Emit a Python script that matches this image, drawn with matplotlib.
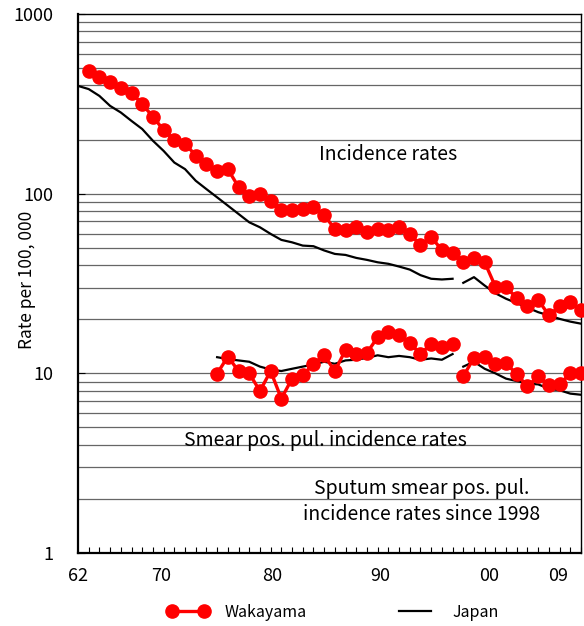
import numpy as np
import matplotlib
matplotlib.use("Agg")
import matplotlib.pyplot as plt
from matplotlib.ticker import FixedLocator, NullFormatter, MultipleLocator

plt.rcParams["font.family"] = ["Noto Sans CJK JP", "DejaVu Sans"]

# Incidence rates (all forms)
wak_inc_years = list(range(1963, 2010))
wak_inc = [482, 447, 421, 385, 365, 315, 268, 226, 199, 190, 163, 147, 133, 137,
           109, 97, 99.6, 90.6, 81, 81, 82, 84, 76, 63.6, 62.9, 65.6, 61, 63.6,
           62.9, 65.6, 59.5, 52, 57.2, 48.7, 46.9,
           41.5, 43.9, 41.5, 30.4, 30.1, 26.3, 23.6, 25.7, 21, 23.6, 24.9, 22.4]

jpn_inc_years = list(range(1962, 2010))
jpn_inc = [398, 382, 350, 308, 283, 254, 229, 197, 173, 149, 137, 118, 106, 95.4,
           85.8, 77.1, 69.3, 65, 59.7, 55.3, 53.6, 51.4, 51, 48.3, 46.2, 45.6,
           43.9, 42.8, 41.5, 40.7, 39.3, 37.8, 35.2, 33.6, 33.3, 33.6,
           31.9, 34.3, 30.8, 27.9, 26, 24.6, 23.2, 21.9, 21, 20.1, 19.4, 18.9]

# Smear positive pulmonary incidence rates (sputum smear pos. since 1998)
wak_sm_years = list(range(1975, 2010))
wak_sm = [9.96, 12.4, 10.3, 10.0, 7.97, 10.3, 7.23, 9.34, 9.75, 11.3, 12.6, 10.3,
          13.5, 12.8, 13.0, 15.9, 17.0, 16.3, 14.8, 12.8, 14.6, 14.1, 14.6,
          9.62, 12.2, 12.4, 11.3, 11.4, 9.87, 8.47, 9.62, 8.58, 8.68, 10.0, 10.1]

jpn_sm_years = list(range(1975, 2010))
jpn_sm = [12.3, 12.0, 11.8, 11.6, 10.9, 10.5, 10.3, 10.6, 10.9, 11.2, 11.6, 11.3,
          11.8, 11.9, 12.2, 12.6, 12.3, 12.5, 12.3, 11.9, 12.1, 11.9, 12.8,
          10.9, 11.6, 10.6, 10.0, 9.34, 9.06, 8.76, 8.68, 8.22, 8.05, 7.71, 7.6]

break_year = 1998  # series are split here

tick_pos = [1962, 1969.8, 1980.1, 1990.2, 2000.4, 2006.9]
tick_lab = ["62", "70", "80", "90", "00", "09"]

fig = plt.figure(figsize=(5.84, 6.26), dpi=100)
ax = fig.add_axes([78 / 584, 73 / 626, 503 / 584, 539 / 626])

red = "#ff0000"


def split(years, vals):
    y = np.array(years)
    v = np.array(vals, dtype=float)
    m = y < break_year
    return (y[m], v[m]), (y[~m], v[~m])


first = True
for yrs, vals in [(wak_inc_years, wak_inc), (wak_sm_years, wak_sm)]:
    for yy, vv in split(yrs, vals):
        ax.plot(yy, vv, "-o", color=red, lw=2.4, ms=9.5, mec=red,
                label="Wakayama" if first else None, zorder=4, clip_on=False)
        first = False

first = True
for yrs, vals in [(jpn_inc_years, jpn_inc), (jpn_sm_years, jpn_sm)]:
    for yy, vv in split(yrs, vals):
        ax.plot(yy, vv, "-", color="black", lw=1.6,
                label="Japan" if first else None, zorder=3)
        first = False

ax.set_yscale("log")
ax.set_ylim(1, 1000)
ax.set_xlim(1962, 2009)

# horizontal gridlines at every log step
grid_vals = [m * 10 ** k for k in range(0, 3) for m in range(2, 11)]
for g in grid_vals[:-1]:
    ax.axhline(g, color="#666666", lw=0.9, zorder=1)

ax.yaxis.set_major_locator(FixedLocator([1, 10, 100, 1000]))
ax.set_yticklabels(["1", "10", "100", "1000"])
ax.yaxis.set_minor_formatter(NullFormatter())
ax.tick_params(axis="y", which="major", direction="in", length=5, pad=18,
               labelsize=13)
ax.tick_params(axis="y", which="minor", length=0)

ax.xaxis.set_major_locator(FixedLocator(tick_pos))
ax.set_xticklabels(tick_lab)
ax.xaxis.set_minor_locator(MultipleLocator(1))
ax.tick_params(axis="x", which="major", length=0, pad=10, labelsize=13)
ax.tick_params(axis="x", which="minor", direction="in", length=4, width=0.8)

for s in ax.spines.values():
    s.set_color("black")
    s.set_linewidth(1.0)
ax.spines["left"].set_linewidth(1.6)
ax.spines["bottom"].set_linewidth(1.6)

fig.text(27 / 584, 1 - 280 / 626, "Rate per 100, 000", rotation=90,
         fontsize=12.5, ha="center", va="center")

ax.text(0.616, 0.74, "Incidence rates", transform=ax.transAxes, fontsize=14,
        ha="center", va="center")
ax.text(0.492, 0.209, "Smear pos. pul. incidence rates", transform=ax.transAxes,
        fontsize=14, ha="center", va="center")
ax.text(0.684, 0.095, "Sputum smear pos. pul.\nincidence rates since 1998",
        transform=ax.transAxes, fontsize=14, ha="center", va="center",
        linespacing=1.3)

fig.legend(loc="center", bbox_to_anchor=(0.57, 0.022), ncol=2, frameon=False,
           numpoints=2, fontsize=11.5, handlelength=2.6, columnspacing=5.5,
           handletextpad=1.0)

fig.savefig("out.png", dpi=100)
